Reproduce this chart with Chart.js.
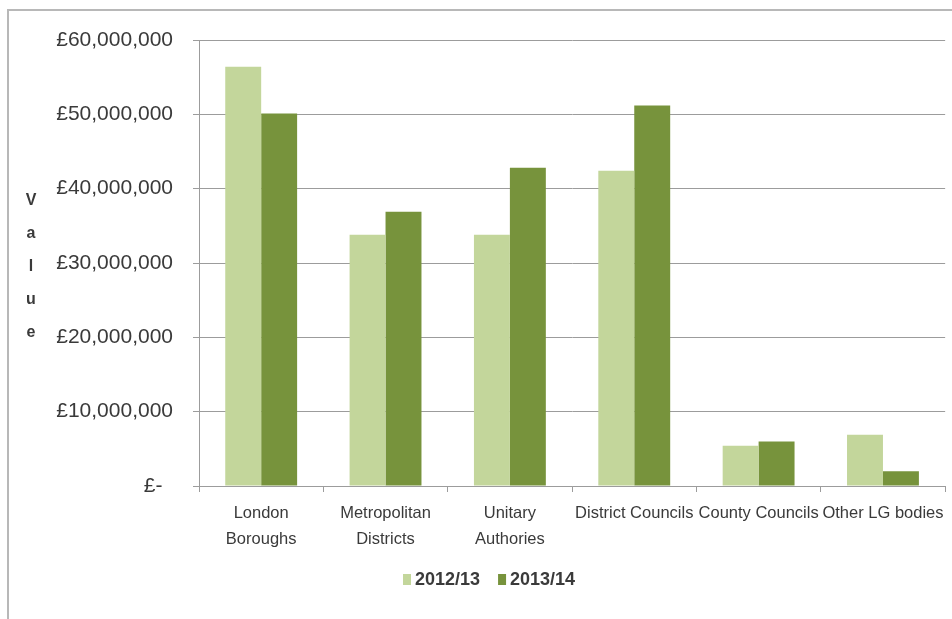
<!DOCTYPE html>
<html>
<head>
<meta charset="utf-8">
<script src="https://cdn.jsdelivr.net/npm/chart.js@4/dist/chart.umd.min.js"></script>
<style>
  html, body { margin: 0; padding: 0; background: #ffffff; }
  #wrap { position: relative; width: 952px; height: 619px; overflow: hidden; }
  #frame { position: absolute; left: 7px; top: 9px; width: 960px; height: 640px;
           border-top: 2px solid #b8b8b8; border-left: 2px solid #b8b8b8; }
  #c { position: absolute; left: 0; top: 0; }
</style>
</head>
<body>
<div id="wrap">
  <div id="frame"></div>
  <canvas id="c" width="952" height="619"></canvas>
</div>
<script>
// ---- data ----
const categories = [
  ['London', 'Boroughs'],
  ['Metropolitan', 'Districts'],
  ['Unitary', 'Authories'],
  'District Councils',
  'County Councils',
  'Other LG bodies'
];
const seriesNames = ['2012/13', '2013/14'];
const values2012 = [56400000, 33800000, 33800000, 42400000, 5400000, 6900000];
const values2013 = [50100000, 36900000, 42800000, 51200000, 6000000, 2000000];
const yTicks = [0, 10000000, 20000000, 30000000, 40000000, 50000000, 60000000];
const yTitle = 'Value';

// ---- styles ----
const FONT = "'Liberation Sans', Arial, sans-serif";
const TEXT = '#3a3a3a';
const GRID = '#9c9c9c';
const colors = ['#c3d69b', '#77933c'];

function fmtMoney(v) {
  if (v === 0) return '£-\u2002';
  return '£' + v.toLocaleString('en-GB');
}

const decorPlugin = {
  id: 'decor',
  afterDraw(chart) {
    const ctx = chart.ctx;
    ctx.save();
    // stacked y-axis title
    ctx.fillStyle = TEXT;
    ctx.font = "bold 16px " + FONT;
    ctx.textAlign = 'center';
    ctx.textBaseline = 'middle';
    const letters = yTitle.split('');
    const ys = [201, 234, 267, 300, 333];
    letters.forEach((ch, i) => ctx.fillText(ch, 31, ys[i]));
    // legend
    let x = 403;
    const yMid = 580;
    ctx.textAlign = 'left';
    ctx.font = "bold 18px " + FONT;
    chart.data.datasets.forEach((ds) => {
      ctx.fillStyle = ds.backgroundColor;
      ctx.fillRect(x, yMid - 6, 8, 11);
      ctx.fillStyle = TEXT;
      ctx.fillText(ds.label, x + 12, yMid);
      x += 12 + ctx.measureText(ds.label).width + 18;
    });
    ctx.restore();
  }
};

new Chart(document.getElementById('c'), {
  type: 'bar',
  data: {
    labels: categories,
    datasets: [
      { label: seriesNames[0], data: values2012, backgroundColor: colors[0] },
      { label: seriesNames[1], data: values2013, backgroundColor: colors[1] }
    ]
  },
  options: {
    responsive: false,
    animation: false,
    layout: { padding: { left: 0, top: 40, right: 6, bottom: 0 } },
    datasets: { bar: { barPercentage: 1.0, categoryPercentage: 0.578 } },
    plugins: { legend: { display: false }, tooltip: { enabled: false }, title: { display: false } },
    scales: {
      x: {
        grid: { display: true, drawOnChartArea: false, drawTicks: true, tickLength: 6, color: GRID, offset: true },
        border: { display: true, color: GRID, width: 1 },
        ticks: { color: TEXT, font: { family: FONT, size: 16.5, lineHeight: 1.6 }, padding: 8, maxRotation: 0, autoSkip: false },
        afterFit(s) { s.height = 133; }
      },
      y: {
        min: 0, max: 60000000,
        afterBuildTicks(s) { s.ticks = yTicks.map(v => ({ value: v })); },
        grid: { color: GRID, tickLength: 6, lineWidth: 1 },
        border: { display: true, color: GRID },
        ticks: { color: TEXT, font: { family: FONT, size: 21 }, padding: 20, callback: (v) => fmtMoney(v) },
        afterFit(s) { s.width = 199; }
      }
    }
  },
  plugins: [decorPlugin]
});
</script>
</body>
</html>
